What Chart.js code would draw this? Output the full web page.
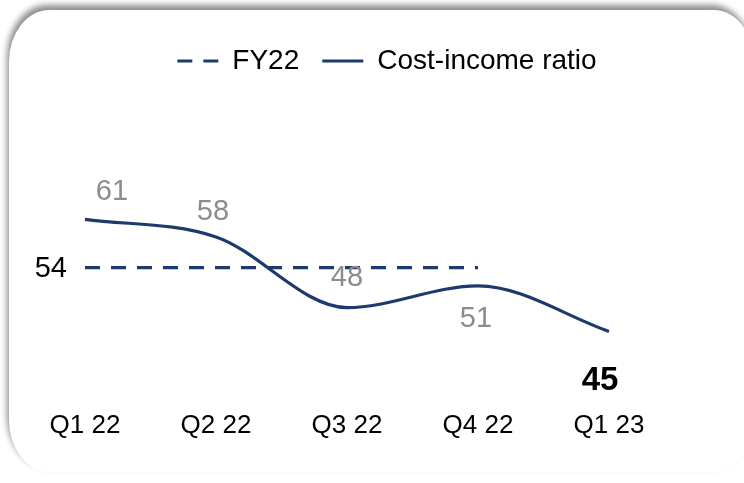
<!DOCTYPE html>
<html>
<head>
<meta charset="utf-8">
<script src="https://cdn.jsdelivr.net/npm/chart.js@4.4.1/dist/chart.umd.min.js"></script>
<style>
  html, body { margin: 0; padding: 0; background: #ffffff; overflow: hidden; }
  #wrap { position: relative; width: 744px; height: 483px; }
  #card { position: absolute; left: 9px; top: 10px; width: 745px; height: 462px;
          border-radius: 40px / 52px; background: #ffffff;
          box-shadow: -2px -5px 6px rgba(0,0,0,0.45); }
  #c { position: absolute; left: 0; top: 0; }
</style>
</head>
<body>
<div id="wrap">
  <div id="card"></div>
  <canvas id="c" width="744" height="483"></canvas>
</div>
<script>
// ---- data ----
const categories = ['Q1 22', 'Q2 22', 'Q3 22', 'Q4 22', 'Q1 23'];
const costIncome = [60.9, 58.4, 48.3, 51.4, 44.9];
const fy22Average = [54, 54, 54, 54, null];
const fy22Label = 'FY22';
const seriesLabel = 'Cost-income ratio';

const NAVY = '#1c3a6c';
const FONT = '"Liberation Sans", Arial, sans-serif';

const labelPlugin = {
  id: 'valueLabels',
  afterDatasetsDraw(chart) {
    const ctx = chart.ctx;
    const x = chart.scales.x, y = chart.scales.y;
    ctx.save();
    ctx.textAlign = 'center';
    ctx.textBaseline = 'middle';
    const offs = [[27, -27], [-3, -25], [0, -30], [-2, 33], [-9, 50]];
    costIncome.forEach((v, i) => {
      const px = x.getPixelForValue(i), py = y.getPixelForValue(v);
      const last = i === costIncome.length - 1;
      ctx.font = (last ? 'bold 33px ' : '29px ') + FONT;
      ctx.fillStyle = last ? '#000000' : '#8c8c8c';
      ctx.fillText(String(Math.round(v)), px + offs[i][0], py + offs[i][1]);
    });
    ctx.font = '29px ' + FONT;
    ctx.fillStyle = '#000000';
    ctx.textAlign = 'right';
    ctx.fillText(String(fy22Average[0]), x.getPixelForValue(0) - 18, y.getPixelForValue(fy22Average[0]) + 1);
    ctx.restore();
  }
};

const legendShift = {
  id: 'legendShift',
  afterLayout(chart) {
    const lg = chart.legend;
    if (lg) { lg.left += 40; lg.right += 40; }
  }
};

new Chart(document.getElementById('c'), {
  type: 'line',
  data: {
    labels: categories,
    datasets: [
      { label: fy22Label, data: fy22Average, borderColor: NAVY, backgroundColor: NAVY,
        borderWidth: 3.2, borderDash: [15, 11], pointRadius: 0, tension: 0, spanGaps: false },
      { label: seriesLabel, data: costIncome, borderColor: NAVY, backgroundColor: NAVY,
        borderWidth: 3.2, pointRadius: 0, cubicInterpolationMode: 'monotone' }
    ]
  },
  options: {
    responsive: false,
    animation: false,
    events: [],
    layout: { padding: { left: 85, right: 135, top: 24, bottom: 0 } },
    plugins: {
      legend: {
        display: true, position: 'top',
        labels: {
          usePointStyle: true, pointStyle: 'line', pointStyleWidth: 41,
          padding: 23, color: '#000000', font: { family: FONT, size: 28 },
          generateLabels(chart) {
            const items = Chart.defaults.plugins.legend.labels.generateLabels(chart);
            items.forEach(it => {
              const ds = chart.data.datasets[it.datasetIndex];
              it.lineDash = ds.borderDash || [];
              it.lineWidth = 3.2;
              it.strokeStyle = ds.borderColor;
            });
            return items;
          }
        }
      },
      tooltip: { enabled: false }
    },
    scales: {
      x: { grid: { display: false, drawTicks: false }, border: { display: false },
           ticks: { color: '#000000', padding: 42, maxRotation: 0, autoSkip: false,
                    font: { family: FONT, size: 26 } } },
      y: { display: false, min: 39.7, max: 80.1 }
    }
  },
  plugins: [labelPlugin, legendShift]
});
</script>
</body>
</html>
